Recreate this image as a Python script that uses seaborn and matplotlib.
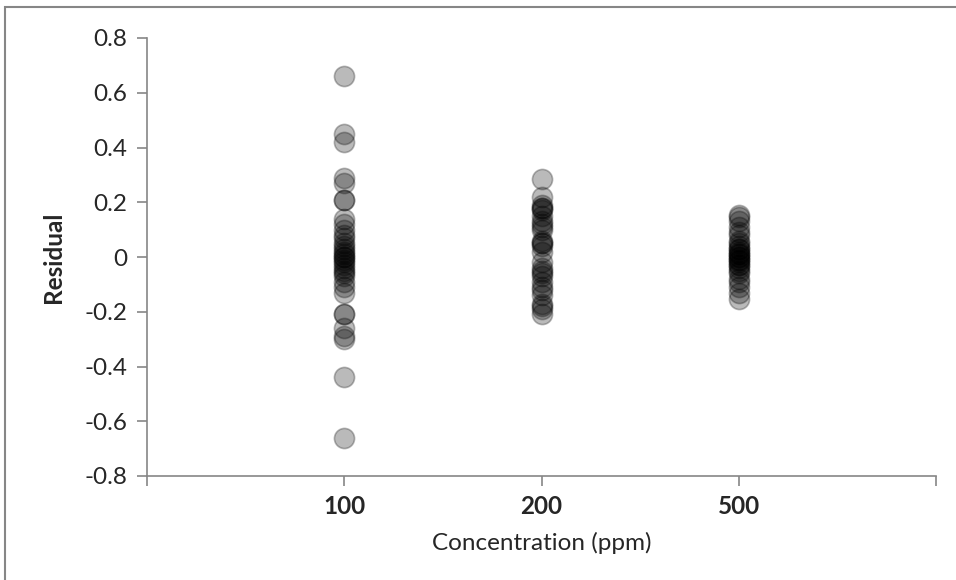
import numpy as np
import pandas as pd
import matplotlib
matplotlib.use("Agg")
import matplotlib.pyplot as plt
from matplotlib.patches import Rectangle
import seaborn as sns

# residuals, one list per concentration
CATEGORIES = ["100", "200", "500"]
RESID_100 = [0.66, 0.45, 0.42, 0.29, 0.27, 0.21, 0.21, 0.14, 0.12, 0.10,
             0.08, 0.07, 0.05, 0.04, 0.03, 0.02, 0.01, 0.00, 0.00, -0.01,
             -0.02, -0.03, -0.04, -0.05, -0.06, -0.07, -0.09, -0.11, -0.13,
             -0.21, -0.21, -0.26, -0.29, -0.30, -0.44, -0.66]
RESID_200 = [0.285, 0.22, 0.19, 0.18, 0.18, 0.17, 0.15, 0.13, 0.12, 0.11,
             0.10, 0.06, 0.05, 0.05, 0.04, 0.02, -0.02, -0.04, -0.05, -0.06,
             -0.07, -0.09, -0.11, -0.12, -0.14, -0.17, -0.18, -0.19, -0.21]
RESID_500 = [0.155, 0.145, 0.13, 0.11, 0.09, 0.08, 0.06, 0.05, 0.04, 0.03,
             0.03, 0.02, 0.01, 0.01, 0.00, 0.00, -0.01, -0.01, -0.02, -0.03,
             -0.03, -0.04, -0.05, -0.06, -0.08, -0.09, -0.11, -0.13, -0.155]
Y_TICKS = [-0.8, -0.6, -0.4, -0.2, 0, 0.2, 0.4, 0.6, 0.8]
Y_TICK_LABELS = ["-0.8", "-0.6", "-0.4", "-0.2", "0", "0.2", "0.4", "0.6", "0.8"]

df = pd.concat([
    pd.DataFrame({"conc": c, "resid": r})
    for c, r in zip(CATEGORIES, [RESID_100, RESID_200, RESID_500])
], ignore_index=True)

sns.set_style("white")
plt.rcParams["font.family"] = ["Lato", "DejaVu Sans"]
GREY = "#868686"
FS = 17.5

fig = plt.figure(figsize=(9.56, 5.8), dpi=100)
ax = fig.add_axes([147 / 956, 1 - 476 / 580, (936 - 147) / 956, (476 - 38) / 580])

sns.stripplot(data=df, x="conc", y="resid", order=CATEGORIES, jitter=False,
              color="black", alpha=0.27, size=14.5, linewidth=1.2,
              edgecolor="black", ax=ax)

ax.set_xlim(-1, 3)
ax.set_ylim(-0.8, 0.8)
ax.set_xticks([-1, 0, 1, 2, 3])
ax.set_xticklabels([""] + CATEGORIES + [""], fontsize=FS, fontweight="bold")
ax.set_yticks(Y_TICKS)
ax.set_yticklabels(Y_TICK_LABELS, fontsize=FS)
ax.set_xlabel("Concentration (ppm)", fontsize=FS, labelpad=10)
ax.set_ylabel("Residual", fontsize=FS, fontweight="bold", labelpad=14)

for side in ["top", "right"]:
    ax.spines[side].set_visible(False)
for side in ["left", "bottom"]:
    ax.spines[side].set_color(GREY)
    ax.spines[side].set_linewidth(1.2)
ax.tick_params(axis="both", direction="out", length=7, width=1.2, color=GREY,
               left=True, bottom=True, pad=7)

# outer chart-area frame (cropped on the right and bottom in the reference)
fig.patches.append(Rectangle((5 / 956, -0.05), 1.1, 1 - 7 / 580 + 0.05,
                             transform=fig.transFigure, fill=False,
                             edgecolor=GREY, linewidth=1.5))

fig.savefig("out.png", dpi=100)
